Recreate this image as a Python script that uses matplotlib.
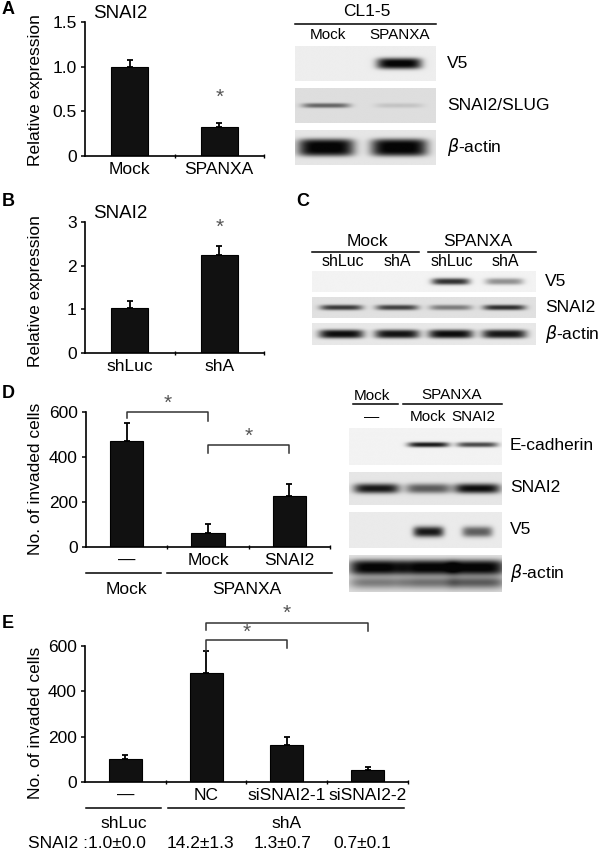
import numpy as np
import matplotlib
matplotlib.use("Agg")
import matplotlib.pyplot as plt

plt.rcParams['font.family'] = ['Liberation Sans', 'DejaVu Sans']
plt.rcParams['mathtext.fontset'] = 'dejavusans'

# ---- data ----
a_groups = ['Mock', 'SPANXA']
a_vals = [1.0, 0.32]
a_err = [0.07, 0.045]

b_groups = ['shLuc', 'shA']
b_vals = [1.03, 2.25]
b_err = [0.16, 0.21]

d_groups = ['—', 'Mock', 'SNAI2']
d_vals = [470, 62, 227]
d_err = [80, 40, 53]

e_groups = ['—', 'NC', 'siSNAI2-1', 'siSNAI2-2']
e_vals = [100, 480, 163, 53]
e_err = [18, 100, 35, 13]
e_snai2 = ['1.0±0.0', '14.2±1.3', '1.3±0.7', '0.7±0.1']

# blot band strengths (0 = none, 1 = saturated), one value per lane
a_v5 = [0.0, 1.0]
a_slug = [0.55, 0.12]
a_actin = [1.0, 1.0]

c_v5 = [0.0, 0.0, 0.8, 0.4]
c_snai2 = [0.75, 0.72, 0.45, 0.8]
c_actin = [0.95, 0.92, 0.95, 0.9]

d_ecad = [0.0, 0.9, 0.7]
d_snai2 = [0.9, 0.6, 0.95]
d_v5 = [0.0, 0.9, 0.6]
d_actin = [1.0, 1.0, 1.0]
d_actin_smear = [0.45, 0.5, 0.6]

W, H = 600, 852
fig = plt.figure(figsize=(W / 100, H / 100), dpi=100)

# overlay in pixel coordinates for labels and lines
ov = fig.add_axes([0, 0, 1, 1])
ov.set_xlim(0, W)
ov.set_ylim(H, 0)
ov.axis('off')


def add_ax(x0, y0, x1, y1):
    return fig.add_axes([x0 / W, 1 - y1 / H, (x1 - x0) / W, (y1 - y0) / H])


def bar_panel(box, groups, vals, err, ymax, yticks, ylabels):
    ax = add_ax(*box)
    x = np.arange(len(groups))
    ax.bar(x, vals, width=0.41, color='#111111', edgecolor='black', linewidth=0.8, zorder=2)
    ax.errorbar(x, vals, yerr=[np.zeros(len(err)), err], fmt='none', ecolor='black',
                elinewidth=1.3, capsize=2.5, capthick=1.3, zorder=1)
    ax.set_xlim(-0.5, len(groups) - 0.5)
    ax.set_ylim(0, ymax * 1.0001)
    ax.set_yticks(yticks)
    ax.set_yticklabels(ylabels)
    ax.set_xticks(x)
    ax.set_xticklabels(groups)
    ax.set_xticks(x + 0.5, minor=True)
    ax.tick_params(axis='x', which='major', length=0, pad=4, labelsize=12.5)
    ax.tick_params(axis='x', which='minor', length=2.5, direction='inout', width=1)
    ax.tick_params(axis='y', length=3, width=1.1, pad=3, labelsize=12.5)
    for s in ['top', 'right']:
        ax.spines[s].set_visible(False)
    for s in ['left', 'bottom']:
        ax.spines[s].set_linewidth(1.2)
    ax.patch.set_alpha(0)
    return ax


def bracket(ax, x0, x1, y, y0, y1, ystar):
    ax.plot([x0, x0, x1, x1], [y0, y, y, y1], color='#333333', lw=1.1, clip_on=False)
    ax.text((x0 + x1) / 2, ystar, '*', ha='center', va='center', fontsize=15,
            color='#555555', clip_on=False)


def blot(box, levels, lanes, bg, bw, bh, ycen=0.5, smear=None, ypow=2.5):
    ax = add_ax(*box)
    nx, ny = 300, 80
    xs = np.linspace(0, 1, nx)
    ys = np.linspace(0, 1, ny)
    img = np.full((ny, nx), bg)
    for i, (lv, cx) in enumerate(zip(levels, lanes)):
        px = np.exp(-np.abs((xs - cx) / (bw / 2)) ** 5)
        py = np.exp(-np.abs((ys - ycen) / (bh / 2)) ** ypow)
        img = img - lv * bg * np.outer(py, px)
        if smear is not None:
            py2 = np.exp(-np.abs((ys - 0.75) / 0.17) ** 2)
            img = img - smear[i] * bg * np.outer(py2, px)
    img = np.clip(img, 0.02, 1)
    ax.imshow(img, cmap='gray', vmin=0, vmax=1, aspect='auto', interpolation='bilinear')
    ax.axis('off')
    return ax


def label(x, y, s, size=12.5, ha='center', **kw):
    ov.text(x, y, s, ha=ha, va='center', fontsize=size, **kw)


def hline(x0, x1, y):
    ov.plot([x0, x1], [y, y], color='black', lw=1.1)


# ---------------- panel A ----------------
label(2, 9, 'A', size=13, ha='left', fontweight='bold')
axA = bar_panel((85, 22, 264, 156), a_groups, a_vals, a_err, 1.5,
                [0, 0.5, 1.0, 1.5], ['0', '0.5', '1.0', '1.5'])
label(93, 14, 'SNAI2', size=13.5, ha='left')
axA.text(1, 0.66, '*', ha='center', va='center', fontsize=15, color='#555555')
label(36, 90, 'Relative expression', rotation=90)

label(367, 12, 'CL1-5', size=12.5)
hline(295, 436, 24)
label(328, 35, 'Mock', size=11)
label(400, 35, 'SPANXA', size=11)
blot((295, 46, 436, 81), a_v5, [0.24, 0.74], 0.93, 0.32, 0.32, ypow=3)
blot((295, 88, 436, 123), a_slug, [0.22, 0.74], 0.87, 0.34, 0.14)
blot((295, 130, 436, 165), a_actin, [0.22, 0.74], 0.9, 0.4, 0.5, ypow=4)
label(447, 64, 'V5', ha='left')
label(447, 106, 'SNAI2/SLUG', ha='left')
label(447, 147, r'$\beta$-actin', ha='left')

# ---------------- panel B ----------------
label(2, 202, 'B', size=13, ha='left', fontweight='bold')
axB = bar_panel((85, 222, 264, 353), b_groups, b_vals, b_err, 3,
                [0, 1, 2, 3], ['0', '1', '2', '3'])
label(93, 214, 'SNAI2', size=13.5, ha='left')
axB.text(1, 2.88, '*', ha='center', va='center', fontsize=15, color='#555555')
label(36, 291, 'Relative expression', rotation=90)

# ---------------- panel C ----------------
label(296, 202, 'C', size=13, ha='left', fontweight='bold')
label(367, 241, 'Mock', size=12.5)
label(478, 241, 'SPANXA', size=12.5)
hline(312, 419, 252)
hline(428, 536, 252)
for xx, s in zip([343, 397, 452, 505], ['shLuc', 'shA', 'shLuc', 'shA']):
    label(xx, 262, s, size=11.5)
c_lanes = [0.13, 0.38, 0.62, 0.86]
blot((312, 271, 536, 292), c_v5, c_lanes, 0.95, 0.17, 0.32)
blot((312, 297, 536, 318), c_snai2, c_lanes, 0.88, 0.19, 0.26)
blot((312, 323, 536, 345), c_actin, c_lanes, 0.91, 0.2, 0.4, ypow=3)
label(545, 282, 'V5', ha='left')
label(545, 307, 'SNAI2', ha='left')
label(545, 334, r'$\beta$-actin', ha='left')

# ---------------- panel D ----------------
label(2, 394, 'D', size=13, ha='left', fontweight='bold')
axD = bar_panel((86, 412, 330, 547), d_groups, d_vals, d_err, 600,
                [0, 200, 400, 600], ['0', '200', '400', '600'])
bracket(axD, 0, 1, 600, 575, 560, 640)
bracket(axD, 1, 2, 453, 420, 420, 490)
label(36, 479, 'No. of invaded cells', rotation=90)
hline(86, 161, 573)
hline(167, 332, 573)
label(126, 589, 'Mock')
label(247, 589, 'SPANXA')

label(372, 396, 'Mock', size=11)
hline(353, 398, 404)
label(452, 395, 'SPANXA', size=11)
hline(403, 502, 404)
for xx, s in zip([372, 428, 473], ['—', 'Mock', 'SNAI2']):
    label(xx, 417, s, size=11)
d_lanes = [0.18, 0.52, 0.84]
blot((349, 428, 502, 465), d_ecad, d_lanes, 0.95, 0.27, 0.14, 0.45)
blot((349, 472, 502, 505), d_snai2, d_lanes, 0.9, 0.3, 0.3)
blot((349, 512, 502, 548), d_v5, d_lanes, 0.92, 0.2, 0.3, 0.55)
blot((349, 555, 502, 592), d_actin, d_lanes, 0.88, 0.36, 0.4, 0.35, smear=d_actin_smear, ypow=3)
label(510, 446, 'E-cadherin', ha='left')
label(510, 488, 'SNAI2', ha='left')
label(510, 530, 'V5', ha='left')
label(510, 573, r'$\beta$-actin', ha='left')

# ---------------- panel E ----------------
label(2, 624, 'E', size=13, ha='left', fontweight='bold')
axE = bar_panel((85, 646, 408, 782), e_groups, e_vals, e_err, 600,
                [0, 200, 400, 600], ['0', '200', '400', '600'])
bracket(axE, 1, 2, 626, 580, 591, 662)
bracket(axE, 1, 3, 701, 670, 666, 745)
label(36, 723, 'No. of invaded cells', rotation=90)
hline(86, 161, 808)
hline(168, 404, 808)
label(124, 823, 'shLuc')
label(287, 823, 'shA')
label(28, 843, 'SNAI2 :' + e_snai2[0], ha='left')
for xx, s in zip([200, 283, 362], e_snai2[1:]):
    label(xx, 843, s)

fig.savefig('out.png', dpi=100)
